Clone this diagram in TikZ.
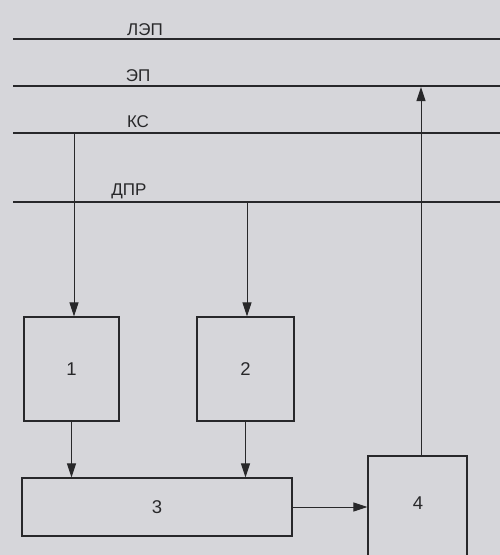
\documentclass[tikz,border=0pt]{standalone}
\usepackage{fontspec}
\setmainfont{Liberation Sans}
\usetikzlibrary{arrows.meta}
\definecolor{bg}{RGB}{214,214,218}
\definecolor{ink}{RGB}{40,40,42}
\begin{document}
\begin{tikzpicture}[x=1pt,y=-1pt,
  bus/.style={draw=ink,line width=1.4pt},
  thickbus/.style={draw=ink,line width=2.4pt},
  lbl/.style={inner sep=0pt,text=ink,font=\fontsize{17}{17}\selectfont},
  box/.style={draw=ink,line width=1.2pt,inner sep=0pt,text=ink,font=\fontsize{18.5}{18.5}\selectfont},
  arr/.style={draw=ink,line width=1pt,-{Triangle[length=14pt,width=9pt]}}]
\fill[bg] (0,0) rectangle (500,555);
\useasboundingbox (0,0) rectangle (500,555);
\begin{scope}
\clip (0,0) rectangle (500,555);
% buses
\draw[bus] (13,39) coordinate (lepL) -- (500,39) coordinate (lepR);
\node[lbl] (lep) at (145,30) {ЛЭП};
\draw[bus] (13,86) coordinate (epL) -- (500,86) coordinate (epR);
\node[lbl] (ep) at (138,76) {ЭП};
\draw[bus] (13,133) coordinate (ksL) -- (500,133) coordinate (ksR);
\node[lbl] (ks) at (138,122) {КС};
\draw[thickbus] (13,202) coordinate (dprL) -- (500,202) coordinate (dprR);
\node[lbl] (dpr) at (129,191) {ДПР};
% taps
\coordinate (k1) at (74,133);
\coordinate (d2) at (247,202);
\coordinate (e4) at (421,87);
% boxes
\node[box,minimum width=95pt,minimum height=104pt] (b1) at (71.5,369) {1};
\node[box,minimum width=97pt,minimum height=104pt] (b2) at (245.5,369) {2};
\node[box,minimum width=270pt,minimum height=58pt] (b3) at (157,507) {3};
\node[box,minimum width=99pt,minimum height=110pt] (b4) at (417.5,511) {};
\node[lbl,font=\fontsize{18.5}{18.5}\selectfont] (n4) at (418,503) {4};
% connectors
\draw[arr] (k1) -- (k1 |- b1.north);
\draw[arr] (d2) -- (d2 |- b2.north);
\draw[arr] (b1.south) -- (b1.south |- b3.north);
\draw[arr] (b2.south) -- (b2.south |- b3.north);
\draw[arr] (b3.east) -- (b3.east -| b4.west);
\draw[arr] (e4 |- b4.north) -- (e4);
\end{scope}
\end{tikzpicture}
\end{document}
